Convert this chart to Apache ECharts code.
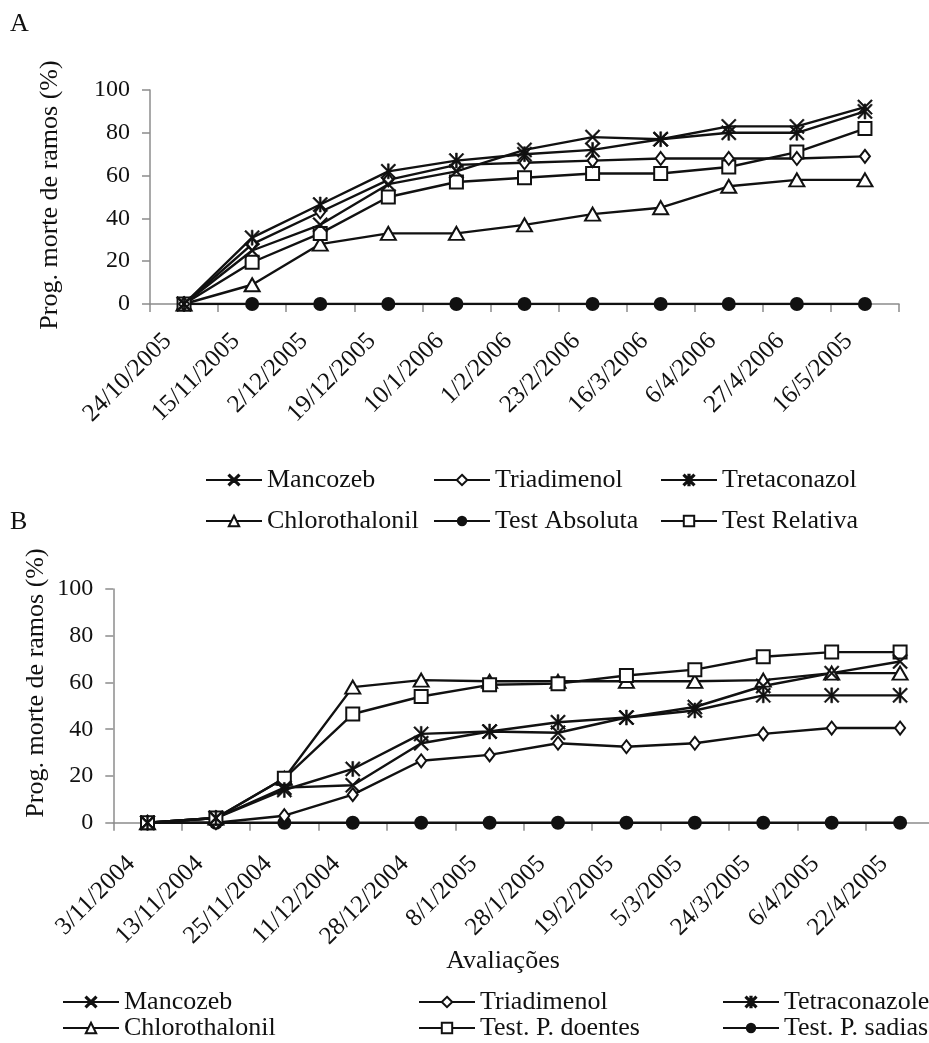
<!DOCTYPE html>
<html>
<head>
<meta charset="utf-8">
<script src="https://cdn.jsdelivr.net/npm/echarts@6/dist/echarts.min.js"></script>
<style>
html,body{margin:0;padding:0;background:#fff;}
#c{width:929px;height:1043px;}
</style>
</head>
<body>
<div id="c"></div>
<script>
// ---------- Data ----------
const catsA = ['24/10/2005','15/11/2005','2/12/2005','19/12/2005','10/1/2006','1/2/2006','23/2/2006','16/3/2006','6/4/2006','27/4/2006','16/5/2005'];
const mancozebA      = [0, 25, 37, 56, 62, 72, 78, 77, 83, 83, 92];
const triadimenolA   = [0, 28, 43, 58, 65, 66, 67, 68, 68, 68, 69];
const tretaconazolA  = [0, 31, 46.5, 62, 67, 70, 72, 77, 80, 80, 90];
const chlorothalonilA= [0, 9, 28, 33, 33, 37, 42, 45, 55, 58, 58];
const testAbsolutaA  = [0, 0, 0, 0, 0, 0, 0, 0, 0, 0, 0];
const testRelativaA  = [0, 19.5, 33, 50, 57, 59, 61, 61, 64, 71, 82];

const catsB = ['3/11/2004','13/11/2004','25/11/2004','11/12/2004','28/12/2004','8/1/2005','28/1/2005','19/2/2005','5/3/2005','24/3/2005','6/4/2005','22/4/2005'];
const mancozebB      = [0, 2, 15, 16, 34, 39, 38.5, 45, 49.5, 58.5, 64, 69];
const triadimenolB   = [0, 0, 3, 12, 26.5, 29, 34, 32.5, 34, 38, 40.5, 40.5];
const tetraconazoleB = [0, 2, 14, 23, 38, 39, 43, 45, 48, 54.5, 54.5, 54.5];
const chlorothalonilB= [0, 2, 19, 58, 61, 60.5, 60.5, 60.5, 60.5, 61, 64, 64];
const testDoentesB   = [0, 2, 19, 46.5, 54, 59, 59.5, 63, 65.5, 71, 73, 73];
const testSadiasB    = [0, 0, 0, 0, 0, 0, 0, 0, 0, 0, 0, 0];

const namesA = ['Mancozeb','Triadimenol','Tretaconazol','Chlorothalonil','Test Absoluta','Test Relativa'];
const namesB = ['Mancozeb','Triadimenol','Tetraconazole','Chlorothalonil','Test. P. doentes','Test. P. sadias'];
const ticksY = [0, 20, 40, 60, 80, 100];

// ---------- Styles ----------
const FONT = "'Liberation Serif','Times New Roman',serif";
const INK = '#111';
const AXIS = '#8c8c8c';
const X_PATH = 'path://M0,1.6 L1.6,0 L10,8.4 L18.4,0 L20,1.6 L11.6,10 L20,18.4 L18.4,20 L10,11.6 L1.6,20 L0,18.4 L8.4,10 Z';
const STAR_PATH = 'path://M0,1.6 L1.6,0 L10,8.4 L18.4,0 L20,1.6 L11.6,10 L20,18.4 L18.4,20 L10,11.6 L1.6,20 L0,18.4 L8.4,10 Z M8.8,0 L11.2,0 L11.2,20 L8.8,20 Z';

const markerStyles = {
  x:       {symbol: X_PATH, size: 15, item: {color: INK, borderColor: INK, borderWidth: 0.6}},
  diamond: {symbol: 'emptyDiamond', size: [10, 13], item: {color: INK, borderWidth: 2}},
  star:    {symbol: STAR_PATH, size: 15, item: {color: INK, borderColor: INK, borderWidth: 0.6}},
  tri:     {symbol: 'emptyTriangle', size: [15, 13], item: {color: INK, borderWidth: 2}},
  dot:     {symbol: 'circle', size: 14, item: {color: INK, borderWidth: 0}},
  sq:      {symbol: 'emptyRect', size: 13, item: {color: INK, borderWidth: 2}}
};

function mkSeries(name, data, mk, gi) {
  const m = markerStyles[mk];
  return {
    type: 'line', name: name, data: data,
    xAxisIndex: gi, yAxisIndex: gi,
    symbol: m.symbol, symbolSize: m.size, showAllSymbol: true,
    lineStyle: {color: INK, width: 2.4},
    itemStyle: m.item,
    emphasis: {disabled: true},
    animation: false, z: 3
  };
}

const seriesA = [
  mkSeries(namesA[4], testAbsolutaA, 'dot', 0),
  mkSeries(namesA[3], chlorothalonilA, 'tri', 0),
  mkSeries(namesA[5], testRelativaA, 'sq', 0),
  mkSeries(namesA[1], triadimenolA, 'diamond', 0),
  mkSeries(namesA[0], mancozebA, 'x', 0),
  mkSeries(namesA[2], tretaconazolA, 'star', 0)
];
const seriesB = [
  mkSeries(namesB[5], testSadiasB, 'dot', 1),
  mkSeries(namesB[1], triadimenolB, 'diamond', 1),
  mkSeries(namesB[3], chlorothalonilB, 'tri', 1),
  mkSeries(namesB[4], testDoentesB, 'sq', 1),
  mkSeries(namesB[0], mancozebB, 'x', 1),
  mkSeries(namesB[2], tetraconazoleB, 'star', 1)
];

function xAx(cats, gi, margin) {
  return {
    type: 'category', gridIndex: gi, data: cats, boundaryGap: true,
    axisLine: {show: true, lineStyle: {color: AXIS, width: 1.5}},
    axisTick: {show: true, length: 8, inside: false, interval: 0, lineStyle: {color: AXIS, width: 1.5}},
    axisLabel: {interval: 0, rotate: 45, margin: margin, padding: [0, 23, 0, 0],
      color: INK, fontFamily: FONT, fontSize: 25},
    splitLine: {show: false}
  };
}
function yAx(gi) {
  return {
    type: 'value', gridIndex: gi, min: ticksY[0], max: ticksY[ticksY.length - 1], interval: 20,
    axisLine: {show: true, lineStyle: {color: AXIS, width: 1.5}},
    axisTick: {show: true, length: 8, inside: false, lineStyle: {color: AXIS, width: 1.5}},
    axisLabel: {margin: 20, color: INK, fontFamily: FONT, fontSize: 24,
      formatter: v => (ticksY.indexOf(v) >= 0 ? String(v) : '')},
    splitLine: {show: false}
  };
}

// legend placement: [name, left, rowCenterY]
const legendCols = [
  [namesA[0], 205, 480], [namesA[1], 433, 480], [namesA[2], 660, 480],
  [namesA[3], 205, 521], [namesA[4], 433, 521], [namesA[5], 660, 521],
  [namesB[0], 62, 1002], [namesB[1], 418, 1002], [namesB[2], 722, 1002],
  [namesB[3], 62, 1028], [namesB[4], 418, 1028], [namesB[5], 722, 1028]
];
const legends = legendCols.map(l => ({
  data: [l[0]], left: l[1], top: l[2] - 13, padding: 0, orient: 'horizontal',
  itemWidth: 56, itemHeight: 13, itemGap: 0, selectedMode: false,
  textStyle: {color: INK, fontFamily: FONT, fontSize: 26, lineHeight: 26}
}));

const option = {
  backgroundColor: '#fff',
  animation: false,
  textStyle: {fontFamily: FONT},
  grid: [
    {left: 150, top: 90, width: 749, height: 214, containLabel: false, outerBoundsMode: 'none'},
    {left: 113.3, top: 589, width: 821, height: 233.7, containLabel: false, outerBoundsMode: 'none'}
  ],
  xAxis: [xAx(catsA, 0, 17), xAx(catsB, 1, 21)],
  yAxis: [yAx(0), yAx(1)],
  legend: legends,
  series: seriesA.concat(seriesB),
  graphic: [
    {type: 'text', left: 10, top: 11, style: {text: 'A', fontFamily: FONT, fontSize: 26, fill: INK}},
    {type: 'text', left: 10, top: 509, style: {text: 'B', fontFamily: FONT, fontSize: 26, fill: INK}},
    {type: 'text', x: 50, y: 195, rotation: Math.PI / 2,
      style: {text: 'Prog. morte de ramos (%)', fontFamily: FONT, fontSize: 26, fill: INK, align: 'center', verticalAlign: 'middle'}},
    {type: 'text', x: 36, y: 683, rotation: Math.PI / 2,
      style: {text: 'Prog. morte de ramos (%)', fontFamily: FONT, fontSize: 26, fill: INK, align: 'center', verticalAlign: 'middle'}},
    {type: 'text', x: 503, y: 961,
      style: {text: 'Avaliações', fontFamily: FONT, fontSize: 26, fill: INK, align: 'center', verticalAlign: 'middle'}}
  ]
};

const chart = echarts.init(document.getElementById('c'), null, {renderer: 'canvas'});
chart.setOption(option);
</script>
</body>
</html>
